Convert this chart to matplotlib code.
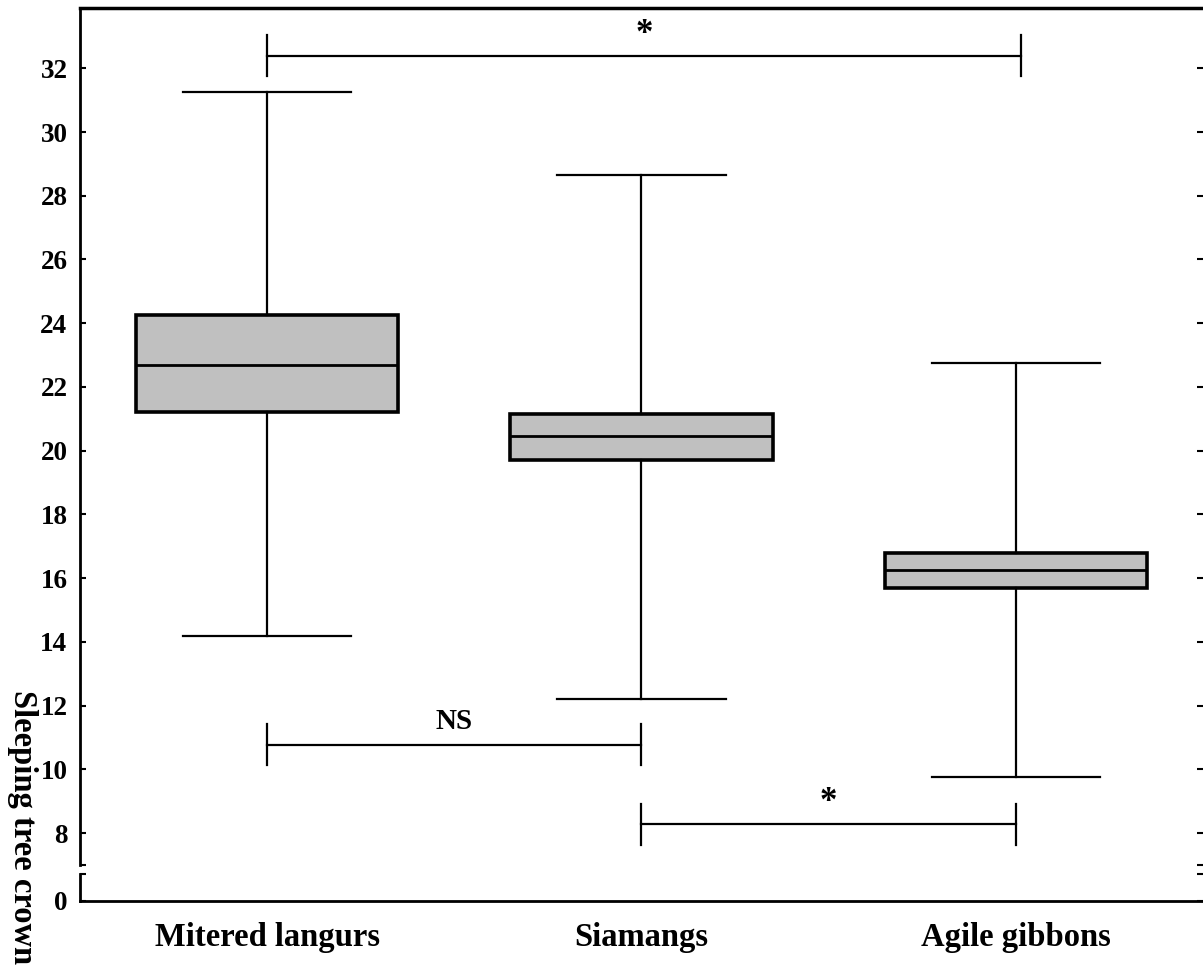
import matplotlib
matplotlib.use("Agg")
import matplotlib.pyplot as plt

plt.rcParams['font.family'] = ['Liberation Serif', 'DejaVu Serif']
plt.rcParams['font.weight'] = 'bold'

categories = ['Mitered langurs', 'Siamangs', 'Agile gibbons']
whisker_low = [14.2, 12.2, 9.75]
q1 = [21.2, 19.7, 15.7]
medians = [22.7, 20.45, 16.25]
q3 = [24.25, 21.15, 16.8]
whisker_high = [31.25, 28.65, 22.75]

upper_ticks = [8, 10, 12, 14, 16, 18, 20, 22, 24, 26, 28, 30, 32]

# significance brackets: (x1, x2, y, label)
brackets = [(1, 3.015, 32.4, '*'), (1, 2, 10.78, 'NS'), (2, 3, 8.28, '*')]

fig = plt.figure(figsize=(12.03, 9.69), dpi=100)
ax = fig.add_axes([0.0665, 0.1073, 0.9335, 0.8844])
ax0 = fig.add_axes([0.0665, 0.0702, 0.9335, 0.0279])

stats = []
for i, name in enumerate(categories):
    stats.append(dict(label=name, whislo=whisker_low[i], q1=q1[i], med=medians[i],
                      q3=q3[i], whishi=whisker_high[i], fliers=[]))

ax.bxp(stats, positions=[1, 2, 3], widths=0.7, patch_artist=True, showfliers=False,
       boxprops=dict(facecolor='#c0c0c0', edgecolor='black', linewidth=2.6),
       medianprops=dict(color='black', linewidth=2),
       whiskerprops=dict(color='black', linewidth=1.6),
       capprops=dict(color='black', linewidth=1.6),
       capwidths=0.45)

for x1, x2, y, lab in brackets:
    ax.plot([x1, x2], [y, y], color='black', lw=1.6)
    ax.plot([x1, x1], [y - 0.65, y + 0.65], color='black', lw=1.6)
    ax.plot([x2, x2], [y - 0.65, y + 0.65], color='black', lw=1.6)
    if lab == 'NS':
        ax.text((x1 + x2) / 2, y + 0.3, lab, ha='center', va='bottom',
                fontsize=21, fontweight='bold')
    else:
        ax.text((x1 + x2) / 2, y + 0.15, lab, ha='center', va='bottom',
                fontsize=25, fontweight='bold')

ax.set_xlim(0.5, 3.5)
ax.set_ylim(7.0, 33.89)
ax.set_yticks(upper_ticks)
ax.set_yticks([7.0], minor=True)
ax.spines['right'].set_visible(False)
ax.spines['bottom'].set_visible(False)
ax.spines['left'].set_linewidth(2)
ax.spines['top'].set_linewidth(2.5)
ax.tick_params(axis='x', bottom=False, labelbottom=False)
ax.tick_params(axis='y', which='both', direction='in', length=4, width=1.5,
               left=True, right=True, labelsize=19.5, pad=9)

ax0.set_xlim(0.5, 3.5)
ax0.set_ylim(0, 0.85)
ax0.set_yticks([0])
ax0.set_yticks([0.85], minor=True)
ax0.set_xticks([1, 2, 3])
ax0.set_xticklabels(categories, fontsize=23.5, fontweight='bold')
ax0.spines['right'].set_visible(False)
ax0.spines['top'].set_visible(False)
ax0.spines['left'].set_linewidth(2)
ax0.spines['bottom'].set_linewidth(2)
ax0.tick_params(axis='x', length=0, pad=15)
ax0.tick_params(axis='y', which='both', direction='in', length=4, width=1.5,
                left=True, right=True, labelsize=19.5, pad=9)

fig.text(0.019, 0.146, 'Sleeping tree crown', rotation=270, ha='center', va='center',
         fontsize=23.5, fontweight='bold')

fig.savefig('out.png', dpi=100)
